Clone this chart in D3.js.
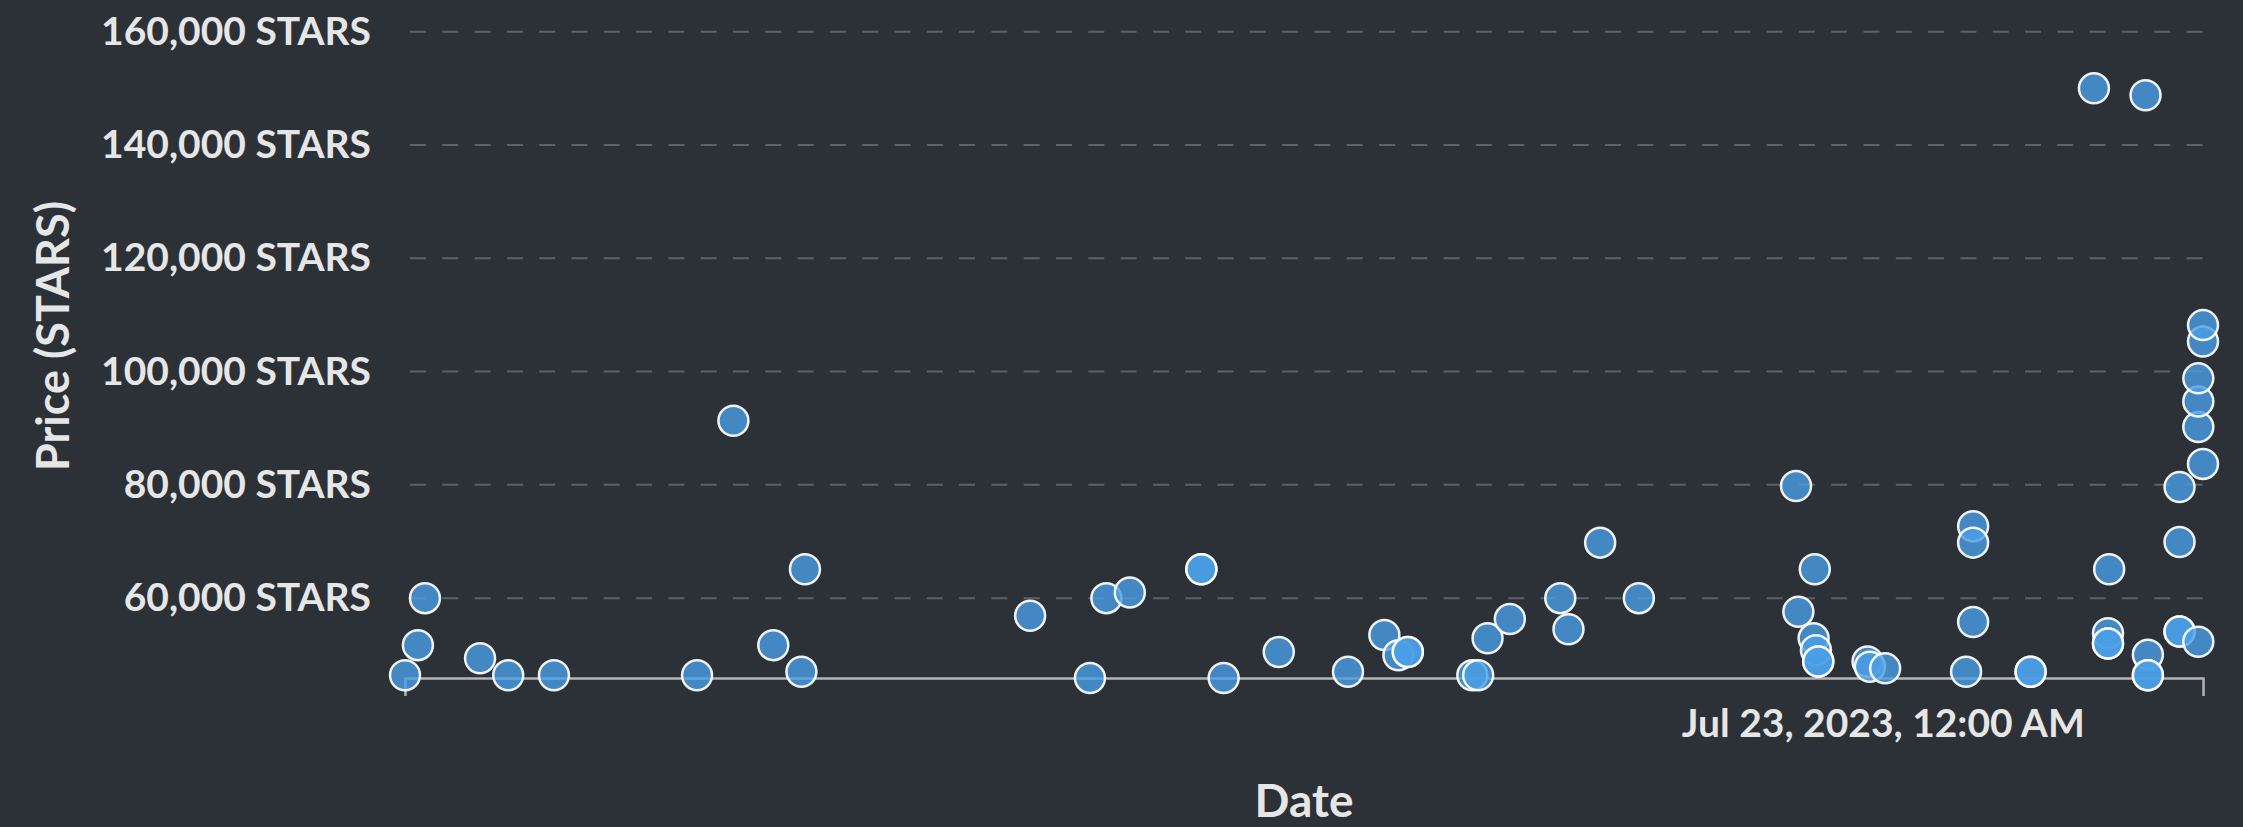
<!DOCTYPE html>
<html>
<head>
<meta charset="utf-8">
<script src="https://cdn.jsdelivr.net/npm/d3@7"></script>
<style>
  html, body { margin: 0; padding: 0; background: #2c3037; }
  svg { display: block; }
  text { font-family: Lato, "Open Sans", sans-serif; font-weight: 700; fill: #e6e6e6; }
</style>
</head>
<body>
<svg id="chart" width="2243" height="827"></svg>
<script>
// ---- data ----
const dates = [
  "2023-07-22 03:00","2023-07-22 03:11","2023-07-22 03:17","2023-07-22 04:04","2023-07-22 04:28",
  "2023-07-22 05:07","2023-07-22 07:09","2023-07-22 07:40","2023-07-22 08:14","2023-07-22 08:38",
  "2023-07-22 08:41","2023-07-22 11:53","2023-07-22 12:44","2023-07-22 12:58","2023-07-22 13:18",
  "2023-07-22 14:19","2023-07-22 14:19","2023-07-22 14:38","2023-07-22 15:25","2023-07-22 16:24",
  "2023-07-22 16:55","2023-07-22 17:07","2023-07-22 17:15","2023-07-22 17:15","2023-07-22 18:10",
  "2023-07-22 18:15","2023-07-22 18:23","2023-07-22 18:42","2023-07-22 19:25","2023-07-22 19:32",
  "2023-07-22 19:59","2023-07-22 20:32","2023-07-22 22:46","2023-07-22 22:48","2023-07-22 23:01",
  "2023-07-22 23:02","2023-07-22 23:03","2023-07-22 23:05","2023-07-22 23:05","2023-07-22 23:47",
  "2023-07-22 23:49","2023-07-23 00:02","2023-07-23 01:11","2023-07-23 01:17","2023-07-23 01:17",
  "2023-07-23 01:17","2023-07-23 02:06","2023-07-23 02:06","2023-07-23 03:00","2023-07-23 03:12",
  "2023-07-23 03:12","2023-07-23 03:12","2023-07-23 03:13","2023-07-23 03:44","2023-07-23 03:46",
  "2023-07-23 03:46","2023-07-23 03:46","2023-07-23 04:13","2023-07-23 04:13","2023-07-23 04:13",
  "2023-07-23 04:13","2023-07-23 04:29","2023-07-23 04:29","2023-07-23 04:29","2023-07-23 04:29",
  "2023-07-23 04:33","2023-07-23 04:33","2023-07-23 04:33"
];
const prices = [
  46400, 51700, 60000, 49400, 46400,
  46400, 46400, 91300, 51700, 47000,
  65100, 56900, 45900, 60000, 61000,
  65100, 65100, 45900, 50500, 47000,
  53500, 49900, 50500, 50500, 46400,
  46400, 52900, 56300, 60000, 54500,
  69800, 60000, 79800, 57600, 52900,
  65100, 50800, 48800, 48800, 48800,
  47900, 47600, 47000, 55800, 72700,
  69800, 47000, 47000, 150000, 53800,
  52000, 52000, 65100, 148800, 50000,
  46400, 46400, 54100, 54100, 69900,
  79600, 52300, 90200, 94700, 98800,
  83700, 105300, 108200
];
const yTickValues = [60000, 80000, 100000, 120000, 140000, 160000];
const xTickDates = ["2023-07-23 00:00"];
const yLabel = "Price (STARS)";
const xLabel = "Date";

// ---- chart ----
(function () {
  const parse = d3.timeParse("%Y-%m-%d %H:%M");
  const points = dates.map((d, i) => ({ date: parse(d), price: prices[i] }));

  const svg = d3.select("#chart");
  const mLeft = 405, mRight = 2203, mTop = 0, mBottom = 678;

  const x = d3.scaleTime()
    .domain(d3.extent(points, d => d.date))
    .range([mLeft, mRight]);
  const y = d3.scaleLinear()
    .domain([45900, 165600])
    .range([mBottom, mTop]);

  // grid lines
  svg.append("g").selectAll("line")
    .data(yTickValues)
    .join("line")
    .attr("x1", mLeft + 5).attr("x2", mRight)
    .attr("y1", d => y(d)).attr("y2", d => y(d))
    .attr("stroke", "#5d6168")
    .attr("stroke-width", 2)
    .attr("stroke-dasharray", "16,16.3");

  // y axis labels
  const yAxis = d3.axisLeft(y)
    .tickValues(yTickValues)
    .tickSizeInner(0).tickSizeOuter(0)
    .tickPadding(34)
    .tickFormat(d => d3.format(",")(d) + " STARS");
  const gy = svg.append("g").attr("transform", `translate(${mLeft},0)`).call(yAxis);
  gy.select(".domain").remove();
  gy.selectAll("text").attr("font-size", 39).style("font-family", "Lato").style("font-weight", 700).attr("fill", "#e8e8e8");

  // x axis
  const xAxis = d3.axisBottom(x)
    .tickValues(xTickDates.map(parse))
    .tickSizeInner(0).tickSizeOuter(18)
    .tickPadding(31)
    .tickFormat(d3.timeFormat("%b %-d, %Y, %-I:%M %p"));
  const gx = svg.append("g").attr("transform", `translate(0,${mBottom})`).call(xAxis);
  gx.select(".domain").attr("stroke", "#b4b4b4").attr("stroke-width", 2.5);
  gx.selectAll(".tick line").remove();
  gx.selectAll("text").attr("font-size", 39).style("font-family", "Lato").style("font-weight", 700).attr("fill", "#e8e8e8");

  // axis titles
  svg.append("text")
    .attr("transform", `translate(69,336) rotate(-90)`)
    .attr("text-anchor", "middle")
    .attr("font-size", 45)
    .attr("fill", "#e8e8e8")
    .text(yLabel);
  svg.append("text")
    .attr("x", (mLeft + mRight) / 2)
    .attr("y", 817)
    .attr("text-anchor", "middle")
    .attr("font-size", 46)
    .attr("fill", "#e8e8e8")
    .text(xLabel);

  // points
  svg.append("g").selectAll("circle")
    .data(points)
    .join("circle")
    .attr("cx", d => x(d.date))
    .attr("cy", d => y(d.price))
    .attr("r", 15)
    .attr("fill", "#4b9fe6")
    .attr("fill-opacity", 0.8)
    .attr("stroke", "#ffffff")
    .attr("stroke-opacity", 0.92)
    .attr("stroke-width", 2.5);
})();
</script>
</body>
</html>
